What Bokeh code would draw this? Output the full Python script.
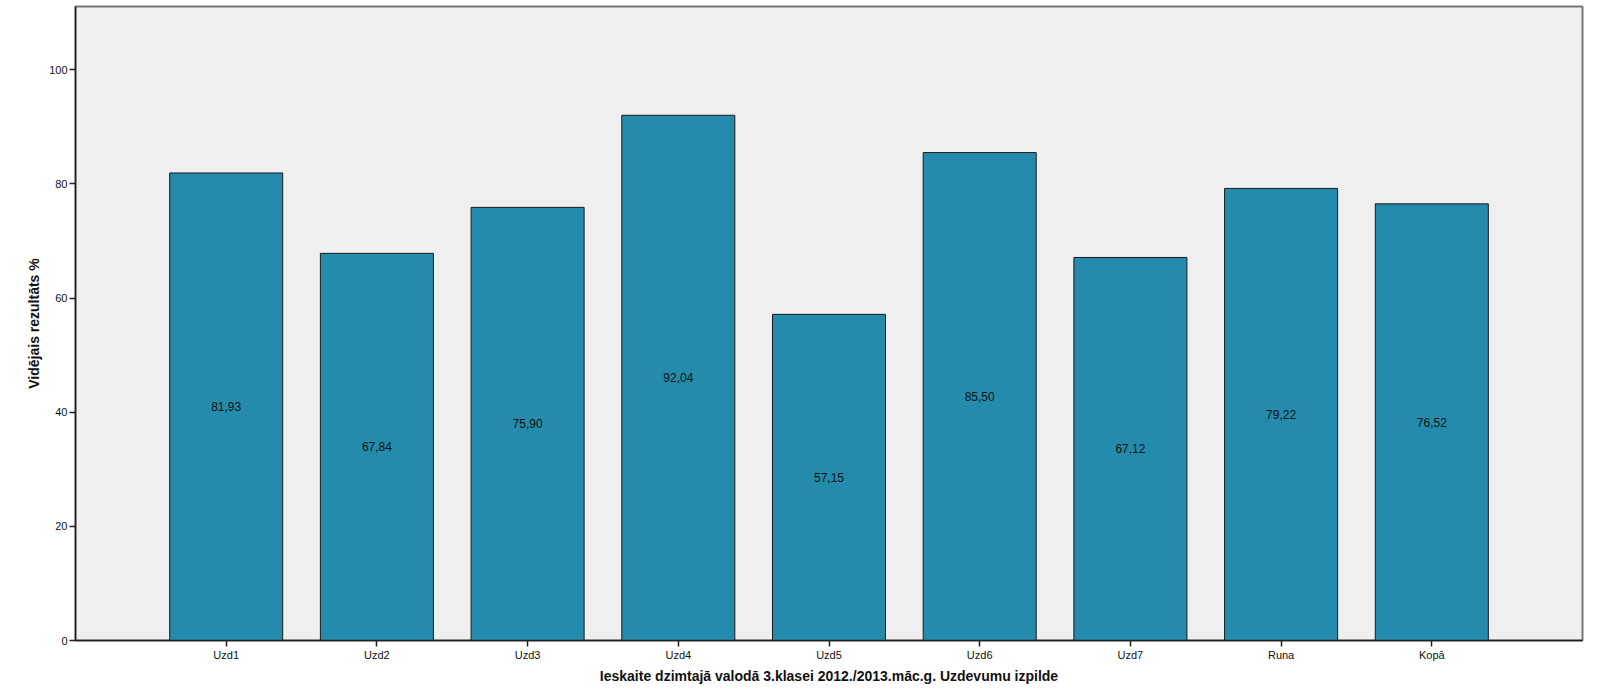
from bokeh.plotting import figure
from bokeh.models import FactorRange, Range1d, ColumnDataSource, FixedTicker, LabelSet
from bokeh.core.properties import value
from bokeh.embed import file_html
from bokeh.resources import INLINE

categories = ["Uzd1", "Uzd2", "Uzd3", "Uzd4", "Uzd5", "Uzd6", "Uzd7", "Runa", "Kopā"]
values = [81.93, 67.84, 75.90, 92.04, 57.15, 85.50, 67.12, 79.22, 76.52]
labels = [f"{v:.2f}".replace(".", ",") for v in values]
half = [v / 2 for v in values]

src = ColumnDataSource(dict(cat=categories, val=values, lab=labels, half=half))

p = figure(
    x_range=FactorRange(factors=categories, range_padding=0.5, range_padding_units="absolute"),
    y_range=Range1d(0, 111.1),
    width=1590, height=686,
    output_backend="svg", toolbar_location=None,
    min_border_left=75, min_border_top=6, min_border_right=8, min_border_bottom=0,
    background_fill_color="#EFEFEF",
)

p.vbar(x="cat", top="val", width=0.75, source=src,
       fill_color="#248BAC", line_color="#1A1A1A", line_width=1)

p.add_layout(LabelSet(x="cat", y="half", text="lab", source=src,
                      text_align="center", text_baseline="middle",
                      text_font=value("Liberation Sans"), text_font_size="12px",
                      text_color="#111111"))

p.grid.visible = False
p.outline_line_color = "#777777"
p.outline_line_width = 2

p.yaxis.ticker = FixedTicker(ticks=[0, 20, 40, 60, 80, 100])
p.yaxis.axis_label = "Vidējais rezultāts %"
p.xaxis.axis_label = "Ieskaite dzimtajā valodā 3.klasei 2012./2013.māc.g. Uzdevumu izpilde"
for ax in (p.xaxis[0], p.yaxis[0]):
    ax.axis_line_color = "#222222"
    ax.axis_line_width = 1.5
    ax.major_tick_line_color = "#222222"
    ax.major_tick_line_width = 1.5
    ax.minor_tick_line_color = None
    ax.major_label_text_font = "Liberation Sans"
    ax.major_label_text_font_size = "11px"
    ax.major_label_text_color = "#111111"
    ax.axis_label_text_font = "Liberation Sans"
    ax.axis_label_text_font_size = "14px"
    ax.axis_label_text_font_style = "bold"
    ax.axis_label_text_color = "#111111"

p.yaxis.major_tick_out = 6
p.yaxis.major_tick_in = 0
p.xaxis.major_tick_out = 6
p.xaxis.major_tick_in = 0
p.yaxis.major_label_standoff = 2
p.xaxis.major_label_standoff = 2
p.yaxis.axis_label_standoff = 4
p.xaxis.axis_label_standoff = 4

open("out.html", "w").write(file_html(p, INLINE))
